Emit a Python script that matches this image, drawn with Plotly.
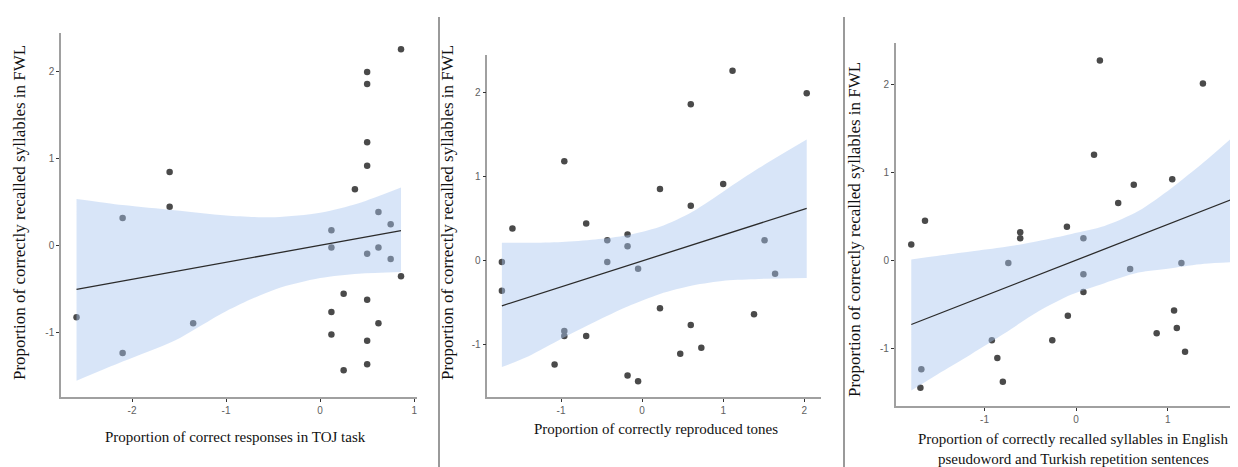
import plotly.graph_objects as go

W, H = 1238, 467

# ---------------- Panel 1: TOJ task ----------------
p1_x = [0.86, 0.50, 0.50, 0.50, 0.50, 0.37, -1.60, -1.60, -2.10, 0.12, 0.62, 0.75,
        0.12, 0.50, 0.62, 0.75, 0.86, -2.59, -2.10, -1.35, 0.25, 0.50, 0.12, 0.62,
        0.12, 0.50, 0.50, 0.25]
p1_y = [2.25, 1.99, 1.85, 1.18, 0.91, 0.64, 0.84, 0.44, 0.31, 0.17, 0.38, 0.24,
        -0.03, -0.10, -0.03, -0.16, -0.36, -0.83, -1.24, -0.90, -0.56, -0.63, -0.77, -0.90,
        -1.03, -1.10, -1.37, -1.44]
p1_fit_x = [-2.59, 0.86]
p1_fit_y = [-0.51, 0.165]
p1_band_x = [-2.59, -2.10, -1.55, -1.00, -0.48, 0.00, 0.41, 0.86]
p1_band_hi = [0.53, 0.46, 0.40, 0.34, 0.32, 0.37, 0.48, 0.66]
p1_band_lo = [-1.56, -1.34, -1.10, -0.76, -0.51, -0.38, -0.33, -0.31]

# ---------------- Panel 2: tones ----------------
p2_x = [1.115, 2.03, 0.60, -0.96, 1.00, 0.22, 0.60, -0.69, -1.60, -0.43, -0.18, -0.18, 1.51,
        -1.73, -1.73, -0.43, -0.05, 1.64, 0.22, 1.38, 0.60, -0.96, -0.96, -0.69, 0.73,
        0.47, -1.08, -0.18, -0.05]
p2_y = [2.26, 1.99, 1.86, 1.18, 0.91, 0.85, 0.65, 0.44, 0.38, 0.24, 0.31, 0.17, 0.24,
        -0.02, -0.36, -0.02, -0.10, -0.16, -0.57, -0.64, -0.77, -0.84, -0.90, -0.90, -1.04,
        -1.11, -1.24, -1.37, -1.44]
p2_fit_x = [-1.73, 2.03]
p2_fit_y = [-0.54, 0.62]
p2_band_x = [-1.73, -1.40, -0.99, -0.58, -0.18, 0.22, 0.62, 1.03, 1.44, 2.03]
p2_band_hi = [0.21, 0.21, 0.22, 0.25, 0.30, 0.40, 0.58, 0.84, 1.10, 1.44]
p2_band_lo = [-1.27, -1.14, -0.93, -0.73, -0.55, -0.40, -0.30, -0.24, -0.22, -0.21]

# ---------------- Panel 3: English/Turkish repetition ----------------
p3_x = [0.26, 1.385, 1.72, 0.196, 1.05, 0.63, 0.46, -1.65, -0.10, -0.61, -0.61, 0.08, -1.80,
        -0.74, 0.08, 0.59, 1.15, 0.08, -0.09, 1.07, 1.10, 0.88, 1.19, -0.92, -0.26,
        -0.86, -0.80, -1.69, -1.70]
p3_y = [2.27, 2.01, 1.87, 1.20, 0.92, 0.86, 0.65, 0.45, 0.38, 0.32, 0.25, 0.25, 0.18,
        -0.03, -0.16, -0.10, -0.03, -0.36, -0.63, -0.57, -0.77, -0.83, -1.04, -0.91, -0.91,
        -1.11, -1.38, -1.24, -1.45]
p3_fit_x = [-1.80, 1.72]
p3_fit_y = [-0.73, 0.70]
p3_band_x = [-1.80, -1.52, -1.15, -0.78, -0.41, -0.05, 0.31, 0.68, 1.04, 1.40, 1.72]
p3_band_hi = [0.01, 0.05, 0.10, 0.15, 0.22, 0.30, 0.39, 0.56, 0.82, 1.12, 1.41]
p3_band_lo = [-1.48, -1.30, -1.07, -0.83, -0.58, -0.39, -0.26, -0.14, -0.09, -0.04, -0.02]

y_ticks = [-1, 0, 1, 2]
y_ticktext = ["-1", "0", "1", "2"]
p1_xticks = [-2, -1, 0, 1]
p1_xticktext = ["-2", "-1", "0", "1"]
p2_xticks = [-1, 0, 1, 2]
p2_xticktext = ["-1", "0", "1", "2"]
p3_xticks = [-1, 0, 1]
p3_xticktext = ["-1", "0", "1"]

y_title = "Proportion of correctly recalled syllables in FWL"
x_title_lines = [
    ["Proportion of correct responses in TOJ task"],
    ["Proportion of correctly reproduced tones"],
    ["Proportion of correctly recalled syllables in English",
     "pseudoword and Turkish repetition sentences"],
]

PT_COLOR = "#4a4a4a"
BAND_COLOR = "rgba(168,198,240,0.45)"
LINE_COLOR = "#2b2b2b"
AXIS_COLOR = "#a0a0a0"
TICK_FONT = dict(family="Liberation Sans, Arial, sans-serif", size=10, color="#606060")
SERIF = "Liberation Serif, Times New Roman, serif"

panels = [
    dict(x=p1_x, y=p1_y, fx=p1_fit_x, fy=p1_fit_y, bx=p1_band_x, bh=p1_band_hi, bl=p1_band_lo,
         xr=[-2.755, 1.03], yr=[-1.747, 2.437], xt=p1_xticks, xtt=p1_xticktext,
         px=(53, 409), py=(25, 389)),
    dict(x=p2_x, y=p2_y, fx=p2_fit_x, fy=p2_fit_y, bx=p2_band_x, bh=p2_band_hi, bl=p2_band_lo,
         xr=[-1.91, 2.21], yr=[-1.63, 2.45], xt=p2_xticks, xtt=p2_xticktext,
         px=(479.3, 813.3), py=(46.7, 389.3)),
    dict(x=p3_x, y=p3_y, fx=p3_fit_x, fy=p3_fit_y, bx=p3_band_x, bh=p3_band_hi, bl=p3_band_lo,
         xr=[-1.97, 1.79], yr=[-1.66, 2.47], xt=p3_xticks, xtt=p3_xticktext,
         px=(887.7, 1232), py=(35, 398.3)),
]

fig = go.Figure()
layout = dict(
    width=W, height=H, margin=dict(l=0, r=0, t=0, b=0),
    paper_bgcolor="white", plot_bgcolor="white", showlegend=False,
)

for i, p in enumerate(panels):
    n = "" if i == 0 else str(i + 1)
    xa, ya = "x" + n, "y" + n
    fig.add_trace(go.Scatter(x=p["x"], y=p["y"], mode="markers",
                             marker=dict(color=PT_COLOR, size=6.5), xaxis=xa, yaxis=ya,
                             hoverinfo="skip"))
    fig.add_trace(go.Scatter(x=p["bx"], y=p["bl"], mode="lines",
                             line=dict(width=0, shape="spline", smoothing=0.8),
                             xaxis=xa, yaxis=ya, hoverinfo="skip"))
    fig.add_trace(go.Scatter(x=p["bx"], y=p["bh"], mode="lines", fill="tonexty",
                             fillcolor=BAND_COLOR,
                             line=dict(width=0, shape="spline", smoothing=0.8),
                             xaxis=xa, yaxis=ya, hoverinfo="skip"))
    fig.add_trace(go.Scatter(x=p["fx"], y=p["fy"], mode="lines",
                             line=dict(color=LINE_COLOR, width=1.3), xaxis=xa, yaxis=ya,
                             hoverinfo="skip"))
    x0, x1 = p["px"]
    y0, y1 = p["py"]
    common = dict(showgrid=False, zeroline=False, showline=True, linecolor=AXIS_COLOR,
                  linewidth=1.5, ticks="outside", ticklen=3, tickcolor="#333333",
                  tickwidth=1, tickfont=TICK_FONT)
    layout["xaxis" + n] = dict(domain=[x0 / W, x1 / W], range=p["xr"], anchor=ya,
                               tickvals=p["xt"], ticktext=p["xtt"], **common)
    layout["yaxis" + n] = dict(domain=[(H - y1) / H, (H - y0) / H], range=p["yr"], anchor=xa,
                               tickvals=y_ticks, ticktext=y_ticktext, **common)

fig.update_layout(**layout)

# y titles
ytitle_pos = [(11, 205), (439, 205), (846, 222)]
for (xp, yp) in ytitle_pos:
    fig.add_annotation(text=y_title, x=xp / W, y=(H - yp) / H, xref="paper", yref="paper",
                       textangle=-90, showarrow=False, xanchor="center", yanchor="middle",
                       font=dict(family=SERIF, size=17, color="#111111"))
# x titles
xtitle_pos = [(227, [429]), (648, [421]), (1065, [431, 451])]
for lines, (xp, yps) in zip(x_title_lines, xtitle_pos):
    for t, yp in zip(lines, yps):
        fig.add_annotation(text=t, x=xp / W, y=(H - yp) / H, xref="paper", yref="paper",
                           showarrow=False, xanchor="center", yanchor="middle",
                           font=dict(family=SERIF, size=15, color="#111111"))

# panel separators
for sx in [431, 836]:
    fig.add_shape(type="line", xref="paper", yref="paper", x0=sx / W, x1=sx / W,
                  y0=0, y1=(H - 9) / H, line=dict(color="#9a9a9a", width=2))

fig.write_html("out.html")
